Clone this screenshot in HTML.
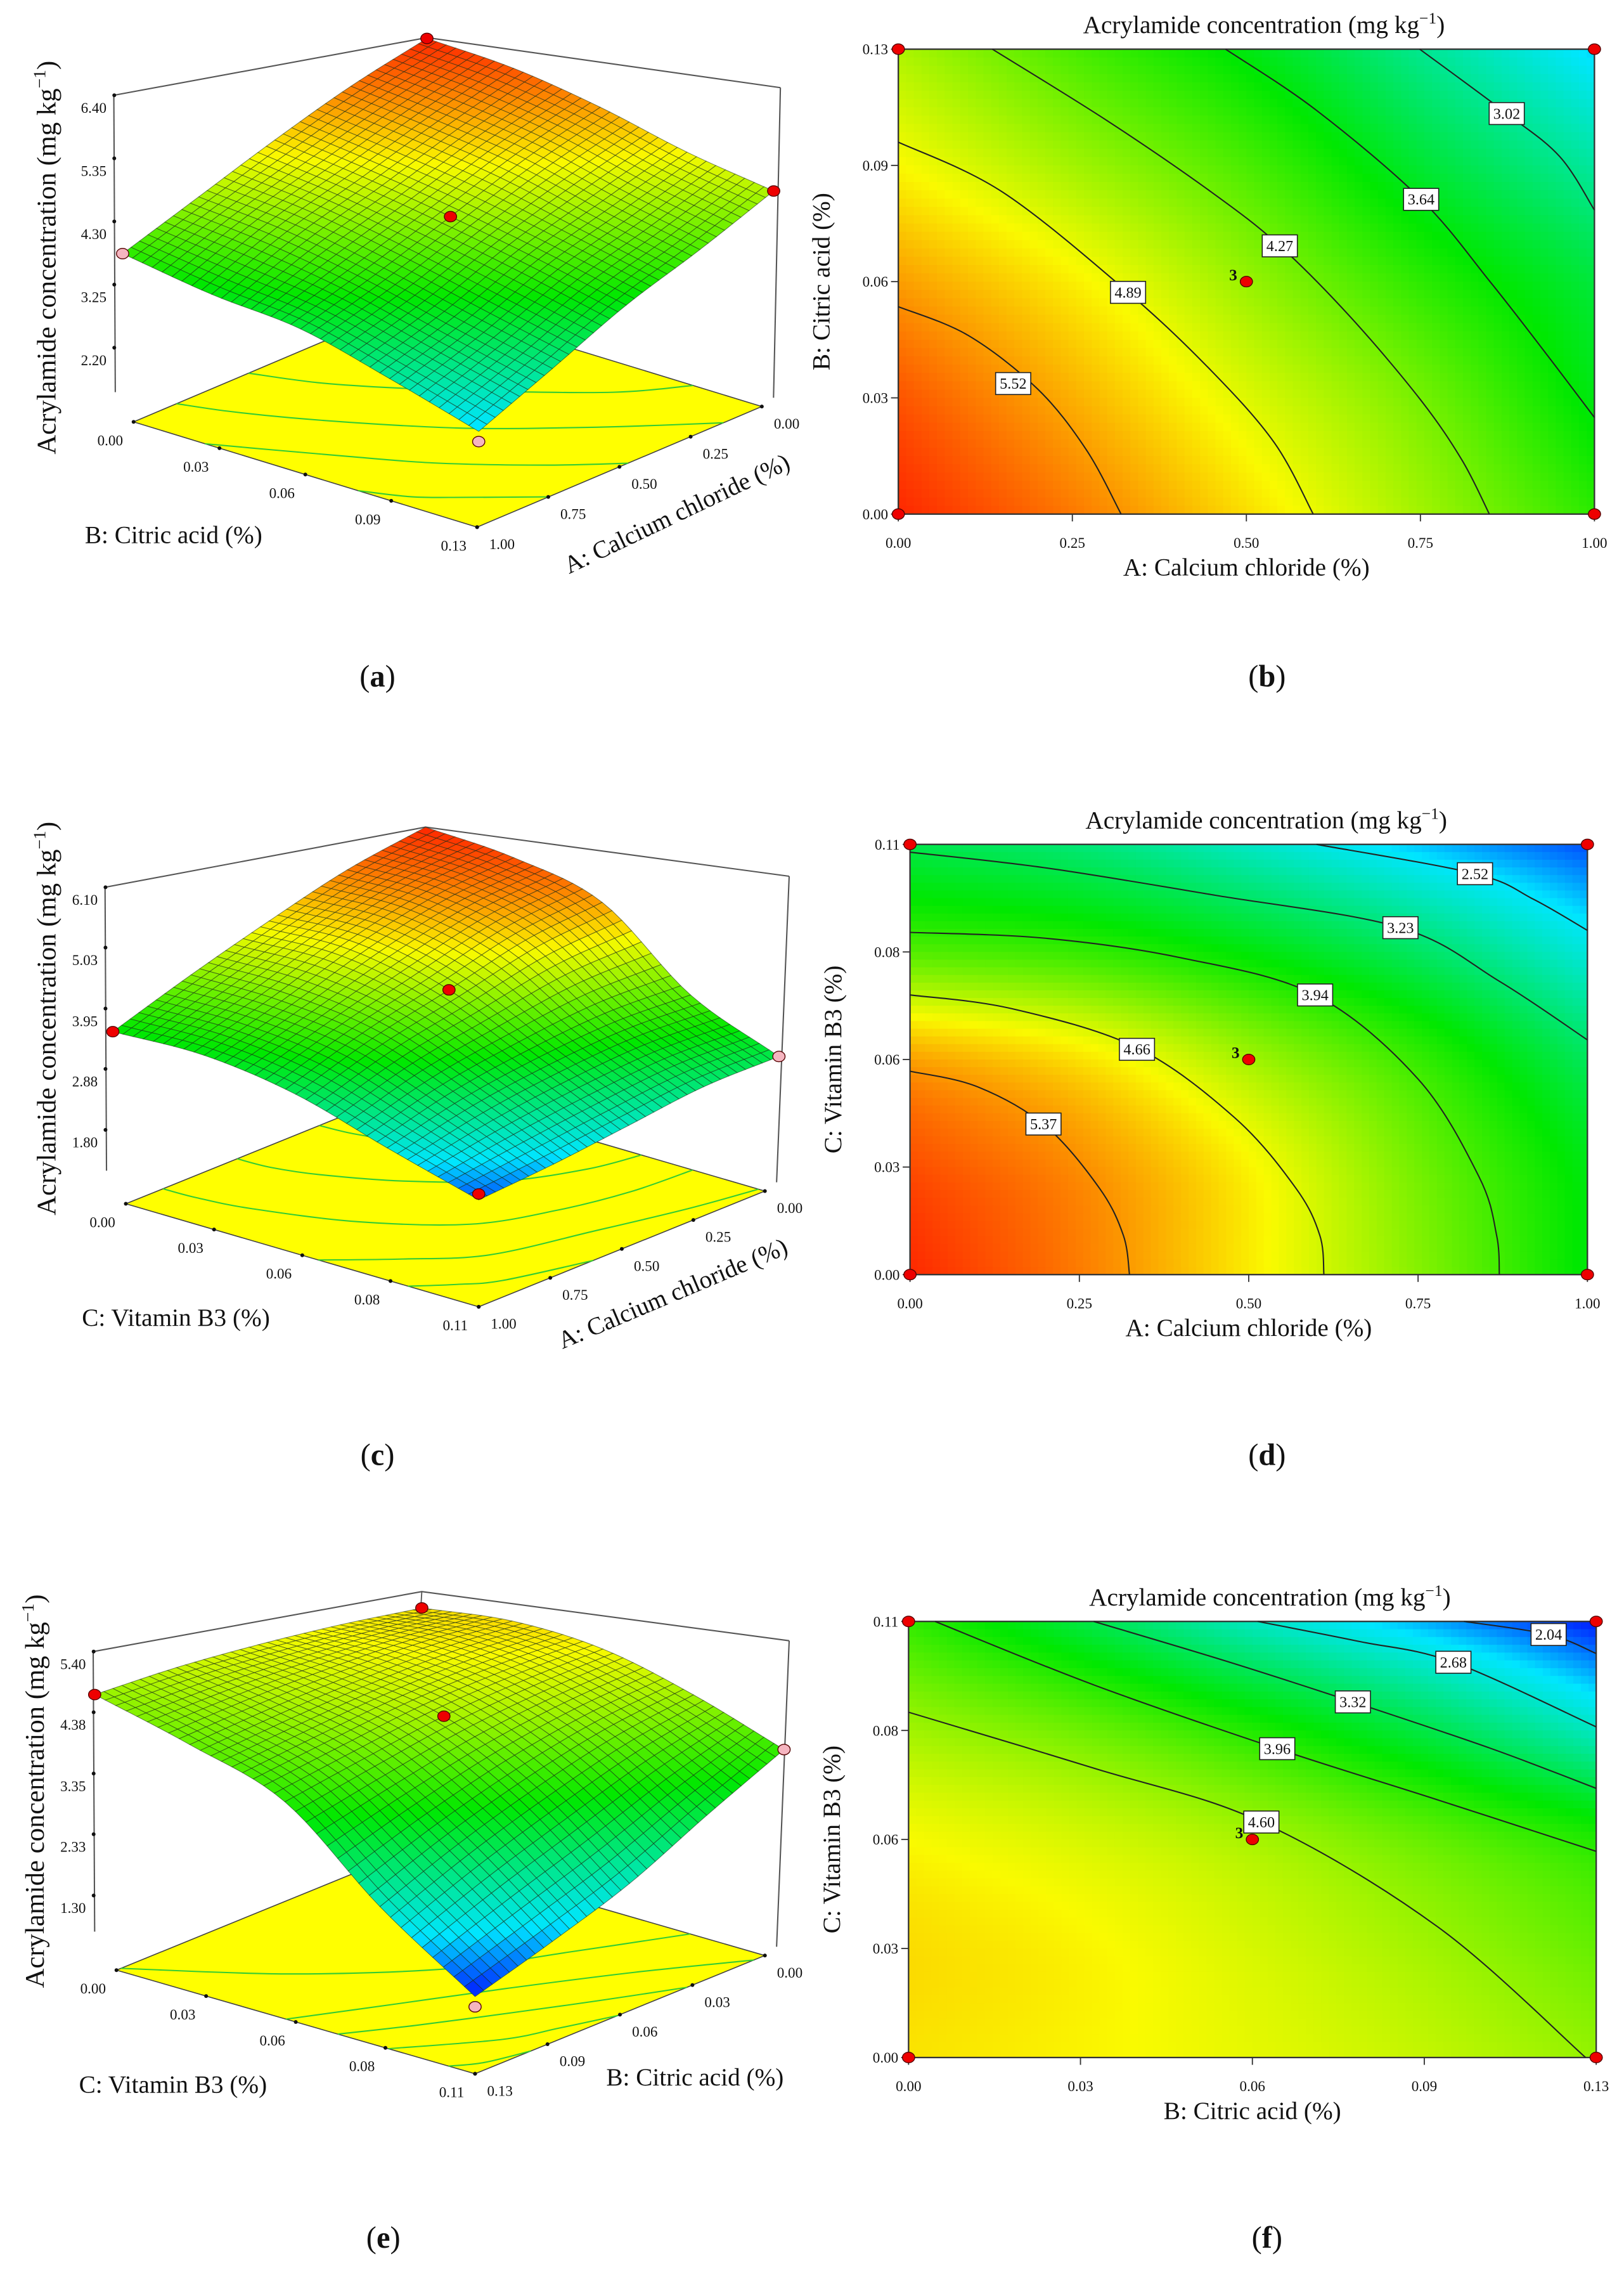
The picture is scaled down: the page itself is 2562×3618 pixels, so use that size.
<!DOCTYPE html>
<html><head><meta charset="utf-8"><style>
html,body{margin:0;padding:0;background:#fff}
svg{display:block}
text{font-family:"Liberation Serif",serif;fill:#111}
</style></head><body>
<svg id="fig" xmlns="http://www.w3.org/2000/svg" width="2562" height="3618" viewBox="0 0 1110 1567.6" preserveAspectRatio="none" font-family="Liberation Serif, serif">
<rect x="0" y="0" width="1110" height="1567.6" fill="#fff"/>
</svg>
<script>
// ---------- DATA ----------
const gridAB = [
  [6.10, 5.65, 5.10, 4.50, 3.90],
  [5.85, 5.35, 4.80, 4.27, 3.60],
  [5.45, 5.00, 4.45, 3.90, 3.40],
  [4.95, 4.50, 4.05, 3.45, 2.95],
  [4.55, 4.05, 3.60, 3.02, 2.45]
];
const gridAC = [
  [6.00, 5.55, 4.95, 4.30, 3.60],
  [5.80, 5.45, 4.90, 4.20, 3.55],
  [5.35, 5.00, 4.44, 3.90, 3.23],
  [4.05, 3.90, 3.60, 3.20, 2.65],
  [3.30, 3.10, 2.75, 2.40, 2.10]
];
const gridBC = [
  [5.30, 5.20, 5.05, 4.85, 4.58],
  [5.35, 5.20, 4.95, 4.65, 4.30],
  [5.15, 4.95, 4.68, 4.30, 3.90],
  [4.65, 4.35, 3.90, 3.35, 2.70],
  [4.00, 3.37, 2.70, 2.20, 1.75]
];
const levelsB = ["5.52", "4.89", "4.27", "3.64", "3.02"];
const linesB = [
  [[0,.058],[.1,.05],[.2,.035],[.27,.018],[.32,0]],
  [[0,.104],[.15,.09],[.33,.062],[.45,.04],[.54,.02],[.596,0]],
  [[.135,.13],[.3,.11],[.45,.09],[.548,.075],[.65,.055],[.75,.032],[.81,.015],[.849,0]],
  [[.47,.13],[.6,.113],[.751,.088],[.85,.065],[.93,.045],[1,.027]],
  [[.749,.13],[.874,.112],[.95,.1],[1,.085]]
];
const labelsB = [[.165,.0365],[.33,.062],[.548,.075],[.751,.088],[.874,.112]];
const levelsD = ["5.37", "4.66", "3.94", "3.23", "2.52"];
const linesD = [
  [[0,.052],[.1,.048],[.2,.038],[.28,.022],[.315,.01],[.324,0]],
  [[0,.0715],[.15,.068],[.335,.058],[.48,.04],[.57,.022],[.605,.01],[.611,0]],
  [[0,.0875],[.2,.086],[.4,.081],[.598,.0715],[.75,.05],[.84,.025],[.866,.01],[.87,0]],
  [[0,.108],[.2,.104],[.45,.097],[.724,.0887],[.87,.075],[1,.06]],
  [[.6,.11],[.834,.1025],[.92,.096],[1,.088]]
];
const labelsD = [[.197,.0385],[.335,.0576],[.598,.0715],[.724,.0887],[.834,.1025]];
const levelsF = ["4.60", "3.96", "3.32", "2.68", "2.04"];
const linesF = [
  [[0,.0871],[.035,.073],[.0667,.0594],[.1,.033],[.128,0]],
  [[.005,.11],[.035,.094],[.0697,.0779],[.1,.065],[.13,.052]],
  [[.035,.11],[.06,.1],[.084,.0897],[.11,.078],[.13,.0679]],
  [[.066,.11],[.085,.105],[.103,.0997],[.13,.0834]],
  [[.105,.11],[.121,.1067],[.13,.1019]]
];
const labelsF = [[.0667,.0594],[.0697,.0779],[.084,.0897],[.103,.0997],[.121,.1067]];
const ticksA = ["0.00","0.25","0.50","0.75","1.00"];
const ticksB = ["0.00","0.03","0.06","0.09","0.13"];
const ticksC = ["0.00","0.03","0.06","0.08","0.11"];
const zTicksA = ["2.20","3.25","4.30","5.35","6.40"];
const zTicksC = ["1.80","2.88","3.95","5.03","6.10"];
const zTicksE = ["1.30","2.33","3.35","4.38","5.40"];

// ---------- helpers ----------
const NS = "http://www.w3.org/2000/svg";
const svg = document.getElementById('fig');
const FONT = '"Liberation Serif", serif';
function mk(tag, attrs, parent) {
  const e = document.createElementNS(NS, tag);
  for (const k in attrs) e.setAttribute(k, attrs[k]);
  if (tag === 'text') e.setAttribute('font-family', FONT);
  (parent || svg).appendChild(e);
  return e;
}
function cmap(t) {
  t = Math.max(0, Math.min(1, t));
  const st = [[0,[0,40,255]],[.12,[0,230,255]],[.4,[0,232,0]],[.7,[250,250,0]],[1,[255,20,0]]];
  for (let i = 1; i < st.length; i++) {
    if (t <= st[i][0]) {
      const a = st[i-1], b = st[i], f = (t - a[0]) / (b[0] - a[0]);
      const c = a[1].map((v, j) => Math.round(v + (b[1][j] - v) * f));
      return 'rgb(' + c.join(',') + ')';
    }
  }
  return 'rgb(255,20,0)';
}
function cr(p0, p1, p2, p3, t) {
  return p1 + 0.5 * t * (p2 - p0 + t * (2*p0 - 5*p1 + 4*p2 - p3 + t * (3*(p1 - p2) + p3 - p0)));
}
function interp(grid, u, v) {
  const n = grid.length - 1, m = grid[0].length - 1;
  const x = Math.max(0, Math.min(m, u * m)), y = Math.max(0, Math.min(n, v * n));
  const i = Math.min(m - 1, Math.floor(x)), j = Math.min(n - 1, Math.floor(y));
  const fx = x - i, fy = y - j;
  const G = (r, c) => {
    // linear extrapolation beyond edges
    let rr = r, cc = c;
    if (rr < 0) return 2*G(0, c) - G(1, c);
    if (rr > n) return 2*G(n, c) - G(n-1, c);
    if (cc < 0) return 2*grid[rr][0] - grid[rr][1];
    if (cc > m) return 2*grid[rr][m] - grid[rr][m-1];
    return grid[rr][cc];
  };
  const rows = [];
  for (let r = j - 1; r <= j + 2; r++) rows.push(cr(G(r,i-1), G(r,i), G(r,i+1), G(r,i+2), fx));
  return cr(rows[0], rows[1], rows[2], rows[3], fy);
}
function smoothPath(pts) {
  let d = 'M' + pts[0][0].toFixed(2) + ',' + pts[0][1].toFixed(2);
  for (let i = 0; i < pts.length - 1; i++) {
    const p0 = pts[Math.max(0, i-1)], p1 = pts[i], p2 = pts[i+1], p3 = pts[Math.min(pts.length-1, i+2)];
    const c1 = [p1[0] + (p2[0]-p0[0])/6, p1[1] + (p2[1]-p0[1])/6];
    const c2 = [p2[0] - (p3[0]-p1[0])/6, p2[1] - (p3[1]-p1[1])/6];
    d += 'C' + c1.map(v=>v.toFixed(2)).join(',') + ' ' + c2.map(v=>v.toFixed(2)).join(',') + ' ' + p2[0].toFixed(2) + ',' + p2[1].toFixed(2);
  }
  return d;
}
function superTitle(x, y, size, parent, name) {
  const t = mk('text', {x: x, y: y, 'font-size': size, 'text-anchor': 'middle'}, parent);
  
  
  t.appendChild(document.createTextNode('Acrylamide concentration (mg kg'));
  const s = mk('tspan', {'font-size': size * 0.65, dy: -size * 0.38}, t);
  s.textContent = '\u22121';
  const s2 = mk('tspan', {dy: size * 0.38}, t);
  s2.textContent = ')';
  return t;
}
function marker(x, y, fill, parent) {
  const c = mk('ellipse', {cx: x, cy: y, rx: 4.2, ry: 3.6, fill: fill, stroke: '#500', 'stroke-width': 0.6}, parent);
  
  
}
function letter(x, y, ch, name) {
  const t = mk('text', {x: x, y: y, 'font-size': 21, 'text-anchor': 'middle'});
  
  
  t.appendChild(document.createTextNode('('));
  const b = mk('tspan', {'font-weight': 'bold'}, t); b.textContent = ch;
  t.appendChild(document.createTextNode(')'));
}

// ---------- contour panel ----------
function contourPanel(cfg) {
  const g = mk('g', {});
  
  
  const sx = x => cfg.L + (x - cfg.x0) / (cfg.x1 - cfg.x0) * (cfg.R - cfg.L);
  const sy = y => cfg.B - (y - cfg.y0) / (cfg.y1 - cfg.y0) * (cfg.B - cfg.T);
  const nx = 90, ny = 56;
  const cw = (cfg.R - cfg.L) / nx, ch = (cfg.B - cfg.T) / ny;
  const heat = mk('g', {}, g);
  
  
  for (let j = 0; j < ny; j++) for (let i = 0; i < nx; i++) {
    const u = (i + .5) / nx, v = 1 - (j + .5) / ny;
    const val = interp(cfg.grid, u, v);
    const r = mk('rect', {x: cfg.L + i*cw, y: cfg.T + j*ch, width: cw + .35, height: ch + .35, fill: cmap((val - cfg.vmin)/(cfg.vmax - cfg.vmin))}, heat);
    
    
  }
  mk('rect', {x: cfg.L, y: cfg.T, width: cfg.R - cfg.L, height: cfg.B - cfg.T, fill: 'none', stroke: '#333', 'stroke-width': 1}, g);
  cfg.lines.forEach((ln, k) => {
    const p = mk('path', {d: smoothPath(ln.map(q => [sx(q[0]), sy(q[1])])), fill: 'none', stroke: '#222', 'stroke-width': 0.9}, g);
    
    
  });
  cfg.labels.forEach((lp, k) => {
    const x = sx(lp[0]), y = sy(lp[1]);
    const r = mk('rect', {x: x - 12, y: y - 7.5, width: 24, height: 15, fill: '#fff', stroke: '#222', 'stroke-width': .7}, g);
    
    
    const t = mk('text', {x: x, y: y + 3.6, 'font-size': 10.5, 'text-anchor': 'middle'}, g);
    
    
    t.textContent = cfg.levels[k];
  });
  cfg.xt.forEach((lab, k) => {
    const x = sx(cfg.x0 + (cfg.x1 - cfg.x0) * k / 4);
    mk('line', {x1: x, y1: cfg.B, x2: x, y2: cfg.B + 5, stroke: '#333', 'stroke-width': .8}, g);
    const t = mk('text', {x: x, y: cfg.B + 23, 'font-size': 10, 'text-anchor': 'middle', fill: '#333'}, g);
    
    
    t.textContent = lab;
  });
  cfg.yt.forEach((lab, k) => {
    const y = sy(cfg.y0 + (cfg.y1 - cfg.y0) * k / 4);
    mk('line', {x1: cfg.L - 5, y1: y, x2: cfg.L, y2: y, stroke: '#333', 'stroke-width': .8}, g);
    const t = mk('text', {x: cfg.L - 7, y: y + 3.5, 'font-size': 10, 'text-anchor': 'end', fill: '#333'}, g);
    
    
    t.textContent = lab;
  });
  const xl = mk('text', {x: (cfg.L + cfg.R)/2, y: cfg.B + 42, 'font-size': 17, 'text-anchor': 'middle'}, g);
  
  
  xl.textContent = cfg.xlabel;
  const yl = mk('text', {x: 0, y: 0, 'font-size': 17, 'text-anchor': 'middle', transform: 'translate(' + (cfg.L - 47) + ',' + ((cfg.T + cfg.B)/2) + ') rotate(-90)'}, g);
  
  
  yl.textContent = cfg.ylabel;
  superTitle((cfg.L + cfg.R)/2 + 12, cfg.T - 11, 17, g, 'chart-title');
  [[cfg.x0,cfg.y0],[cfg.x1,cfg.y0],[cfg.x0,cfg.y1],[cfg.x1,cfg.y1],[(cfg.x0+cfg.x1)/2,(cfg.y0+cfg.y1)/2]].forEach(p => marker(sx(p[0]), sy(p[1]), '#e00', g));
  const c3 = mk('text', {x: sx((cfg.x0+cfg.x1)/2) - 9, y: sy((cfg.y0+cfg.y1)/2) - 1, 'font-size': 11, 'font-weight': 'bold', 'text-anchor': 'middle'}, g);
  
  
  c3.textContent = '3';
}

// ---------- 3D surface panel ----------
function surfacePanel(cfg) {
  const g = mk('g', {});
  
  
  const bl = (C, u, v) => [
    C[0][0]*(1-u)*(1-v) + C[1][0]*u*(1-v) + C[2][0]*(1-u)*v + C[3][0]*u*v,
    C[0][1]*(1-u)*(1-v) + C[1][1]*u*(1-v) + C[2][1]*(1-u)*v + C[3][1]*u*v];
  const surf = (u, v) => { const b = bl(cfg.base, u, v); return [b[0], b[1] - cfg.k * interp(cfg.grid, u, v)]; };
  const floor = (u, v) => bl(cfg.floor, u, v);
  const s = v => v.toFixed(2);
  const F = cfg.floor;
  mk('line', {x1: cfg.topBack[0], y1: cfg.topBack[1], x2: F[0][0], y2: F[0][1], stroke: '#555', 'stroke-width': .8}, g);
  mk('polyline', {points: [cfg.topLeft, cfg.topBack, cfg.topRight].map(p => p.join(',')).join(' '), fill: 'none', stroke: '#555', 'stroke-width': .9}, g);
  mk('line', {x1: cfg.topLeft[0], y1: cfg.topLeft[1], x2: cfg.topLeft[0] + 1, y2: cfg.leftBottom, stroke: '#555', 'stroke-width': .9}, g);
  mk('line', {x1: cfg.topRight[0], y1: cfg.topRight[1], x2: F[2][0] + 8, y2: F[2][1] - 6, stroke: '#555', 'stroke-width': .9}, g);
  const fp = mk('polygon', {points: [F[0], F[1], F[3], F[2]].map(p => p.join(',')).join(' '), fill: '#ffff00', stroke: '#444', 'stroke-width': .7}, g);
  
  
  cfg.lines.forEach(ln => {
    const p = mk('path', {d: smoothPath(ln.map(q => floor(q[0] / cfg.xr, q[1] / cfg.yr))), fill: 'none', stroke: '#3c3', 'stroke-width': .9}, g);
    
    
  });
  for (let k = 0; k < 5; k++) {
    const pl = floor(1, k/4), pr = floor(k/4, 1);
    mk('circle', {cx: pl[0], cy: pl[1], r: 1.3, fill: '#111'}, g);
    mk('circle', {cx: pr[0], cy: pr[1], r: 1.3, fill: '#111'}, g);
    const t1 = mk('text', {x: pl[0] - 16, y: pl[1] + 16, 'font-size': 10, 'text-anchor': 'middle', fill: '#333'}, g);
    
    
    t1.textContent = cfg.vt[k];
    const t2 = mk('text', {x: pr[0] + 17, y: pr[1] + 15, 'font-size': 10, 'text-anchor': 'middle', fill: '#333'}, g);
    
    
    t2.textContent = cfg.ut[k];
  }
  const zmax = parseFloat(cfg.zt[4]);
  cfg.zt.forEach(lab => {
    const y = cfg.topLeft[1] + (zmax - parseFloat(lab)) * cfg.k;
    mk('circle', {cx: cfg.topLeft[0] + .3, cy: y, r: 1.3, fill: '#111'}, g);
    const t = mk('text', {x: cfg.topLeft[0] - 5, y: y + 12, 'font-size': 10, 'text-anchor': 'end', fill: '#333'}, g);
    
    
    t.textContent = lab;
  });
  const N = 36;
  const mesh = mk('g', {}, g);
  
  
  const quads = [];
  for (let i = 0; i < N; i++) for (let j = 0; j < N; j++) quads.push([i, j]);
  quads.sort((a, b) => (a[0] + a[1]) - (b[0] + b[1]));
  quads.forEach(q => {
    const u0 = q[0]/N, u1 = (q[0]+1)/N, v0 = q[1]/N, v1 = (q[1]+1)/N;
    const pts = [surf(u0,v0), surf(u1,v0), surf(u1,v1), surf(u0,v1)];
    const val = interp(cfg.grid, (u0+u1)/2, (v0+v1)/2);
    const p = mk('polygon', {points: pts.map(p => s(p[0]) + ',' + s(p[1])).join(' '), fill: cmap((val - cfg.vmin)/(cfg.vmax - cfg.vmin)), stroke: 'rgba(20,40,20,0.55)', 'stroke-width': .45}, mesh);
    
    
  });
  cfg.marks.forEach(m => {
    const p = surf(m[0], m[1]);
    marker(p[0], p[1] + (m[3] || 0), m[2], g);
  });
  const zt = mk('text', {x: 0, y: 0, 'font-size': 18.5, 'text-anchor': 'middle', transform: 'translate(' + cfg.zTitle[0] + ',' + cfg.zTitle[1] + ') rotate(-90)'}, g);
  
  
  zt.appendChild(document.createTextNode('Acrylamide concentration (mg kg'));
  const sp = mk('tspan', {'font-size': 12, dy: -7}, zt); sp.textContent = '\u22121';
  const sp2 = mk('tspan', {dy: 7}, zt); sp2.textContent = ')';
  const lt = mk('text', {x: cfg.leftTitle[0], y: cfg.leftTitle[1], 'font-size': 17}, g);
  
  
  lt.textContent = cfg.vlabel;
  const rt = mk('text', {x: 0, y: 0, 'font-size': 17, 'text-anchor': 'middle', transform: 'translate(' + cfg.rightTitle[0] + ',' + cfg.rightTitle[1] + ') rotate(' + cfg.rightTitle[2] + ')'}, g);
  
  
  rt.textContent = cfg.ulabel;
}

// ---------- build ----------
surfacePanel({name: 'surface-plot-a', grid: gridAB, vmin: 2.0, vmax: 6.2, k: 41.07,
  base: [[291.8,276.8],[83.8,333.5],[528.8,317.4],[327.2,395.4]],
  floor: [[285.8,205.9],[91.3,288.3],[520.7,277.8],[326.1,360.2]],
  topBack: [291.8,25.7], topLeft: [77.8,65.1], topRight: [533.4,59.9], leftBottom: 268,
  lines: linesB, xr: 1, yr: 0.13, ut: ticksA, vt: ticksB, zt: zTicksA,
  marks: [[0,0,'#e00'],[0,1,'#e00'],[.5,.5,'#e00'],[1,0,'#f5b5c0'],[1,1,'#f5b5c0',7]],
  zTitle: [38,176], leftTitle: [58,371], vlabel: 'B: Citric acid (%)',
  rightTitle: [465,356,-25.5], ulabel: 'A: Calcium chloride (%)'});
contourPanel({name: 'contour-plot-b', grid: gridAB, vmin: 2.0, vmax: 6.2,
  L: 614, R: 1089.8, T: 33.6, B: 351.3, x0: 0, x1: 1, y0: 0, y1: 0.13,
  lines: linesB, levels: levelsB, labels: labelsB, xt: ticksA, yt: ticksB,
  xlabel: 'A: Calcium chloride (%)', ylabel: 'B: Citric acid (%)'});
surfacePanel({name: 'surface-plot-c', grid: gridAC, vmin: 2.0, vmax: 6.1, k: 38.56,
  base: [[290.8,796.6],[77.1,843.8],[532.4,849.2],[327.2,900.9]],
  floor: [[281.6,743.5],[86,822.6],[522.8,813.9],[327.2,893.0]],
  topBack: [290.8,565.2], topLeft: [71.8,606.3], topRight: [539.4,598.8], leftBottom: 800,
  lines: linesD, xr: 1, yr: 0.11, ut: ticksA, vt: ticksC, zt: zTicksC,
  marks: [[1,0,'#e00'],[0,1,'#f5b5c0'],[.5,.5,'#e00'],[1,1,'#e00',-4]],
  zTitle: [38,696], leftTitle: [56,906], vlabel: 'C: Vitamin B3 (%)',
  rightTitle: [462,889,-23], ulabel: 'A: Calcium chloride (%)'});
contourPanel({name: 'contour-plot-d', grid: gridAC, vmin: 2.0, vmax: 6.1,
  L: 622, R: 1085, T: 577, B: 871, x0: 0, x1: 1, y0: 0, y1: 0.11,
  lines: linesD, levels: levelsD, labels: labelsD, xt: ticksA, yt: ticksC,
  xlabel: 'A: Calcium chloride (%)', ylabel: 'C: Vitamin B3 (%)'});
surfacePanel({name: 'surface-plot-e', grid: gridBC, vmin: 1.8, vmax: 6.6, k: 40.66,
  base: [[288.3,1314.3],[64.7,1344.2],[535.9,1358.2],[324.7,1435.5]],
  floor: [[277.7,1265.5],[79.6,1346.3],[522.8,1336.3],[324.7,1417.1]],
  topBack: [288.3,1087.6], topLeft: [63.7,1128.6], topRight: [539.4,1121.2], leftBottom: 1320,
  lines: linesF, xr: 0.13, yr: 0.11, ut: ticksB, vt: ticksC, zt: zTicksE,
  marks: [[0,0,'#e00'],[1,0,'#e00'],[0,1,'#f5b5c0'],[.5,.5,'#e00'],[1,1,'#f5b5c0',7]],
  zTitle: [30,1224], leftTitle: [54,1430], vlabel: 'C: Vitamin B3 (%)',
  rightTitle: [475,1425,0], ulabel: 'B: Citric acid (%)'});
contourPanel({name: 'contour-plot-f', grid: gridBC, vmin: 1.8, vmax: 6.6,
  L: 621, R: 1091, T: 1108, B: 1406, x0: 0, x1: 0.13, y0: 0, y1: 0.11,
  lines: linesF, levels: levelsF, labels: labelsF, xt: ticksB, yt: ticksC,
  xlabel: 'B: Citric acid (%)', ylabel: 'C: Vitamin B3 (%)'});

letter(258, 469, 'a', 'panel-label-a');
letter(866, 469, 'b', 'panel-label-b');
letter(258, 1001, 'c', 'panel-label-c');
letter(866, 1001, 'd', 'panel-label-d');
letter(262, 1536, 'e', 'panel-label-e');
letter(866, 1536, 'f', 'panel-label-f');
</script>
</body></html>
